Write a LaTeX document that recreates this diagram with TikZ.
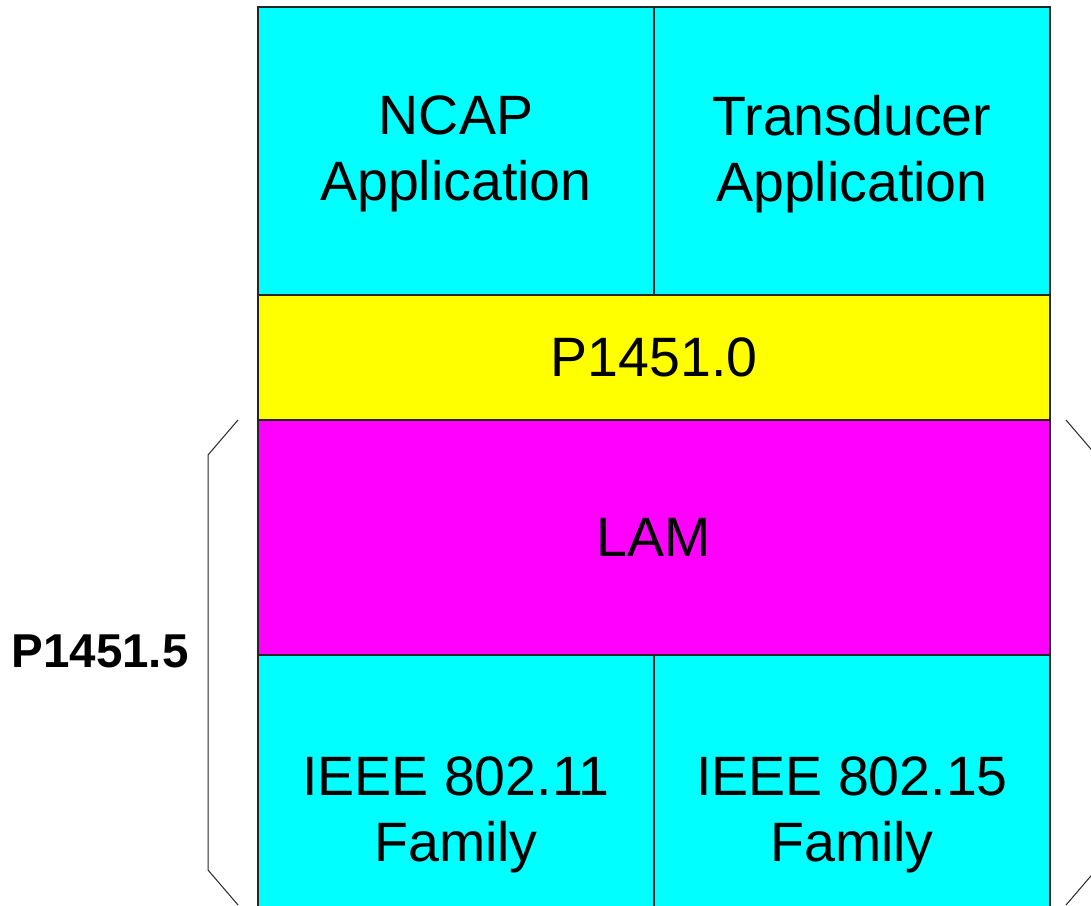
\documentclass[tikz,border=0pt]{standalone}
\usepackage{fontspec}
\setmainfont{Liberation Sans}
\definecolor{layercyan}{RGB}{0,255,255}
\definecolor{layeryellow}{RGB}{255,255,0}
\definecolor{layermagenta}{RGB}{255,0,255}
\begin{document}
\begin{tikzpicture}[x=1pt,y=-1pt,
  cell/.style={draw=black!85,line width=1.4pt,rectangle,inner sep=0pt,
    align=center,font=\fontsize{55.5}{66}\selectfont},
  celltext/.style={cell,draw=none,anchor=center},
  bracket/.style={draw=black!85,line width=1pt},
  sidelabel/.style={font=\fontsize{47.5}{57}\selectfont\bfseries}]
\useasboundingbox (0,0) rectangle (1091,905);
\clip (0,0) rectangle (1091,905);
% application layer
\node[cell,fill=layercyan,minimum width=396pt,minimum height=288pt] (ncap) at (456,151) {};
\node[cell,fill=layercyan,minimum width=396pt,minimum height=288pt] (trans) at (852,151) {};
\node[celltext] at ([yshift=-3pt]ncap.center) {NCAP\\Application};
\node[celltext] at ([yshift=-3pt]trans.center) {Transducer\\Application};
% common layer
\node[cell,fill=layeryellow,minimum width=792pt,minimum height=125pt] (p0) at (654,357.5) {P1451.0};
% wireless families
\node[cell,fill=layercyan,minimum width=396pt,minimum height=316pt] (w11) at (456,813) {};
\node[cell,fill=layercyan,minimum width=396pt,minimum height=316pt] (w15) at (852,813) {};
\node[celltext] at ([yshift=-2pt]w11.center) {IEEE 802.11\\Family};
\node[celltext] at ([yshift=-2pt]w15.center) {IEEE 802.15\\Family};
% LAM
\node[cell,fill=layermagenta,minimum width=792pt,minimum height=235pt] (lam) at (654,537.5) {LAM};
% brackets around the P1451.5 part
\draw[bracket] (238,420) -- (208,455) -- (208,870) -- (238,905);
\draw[bracket] (1066,420) -- (1096,455) -- (1096,870) -- (1066,905);
\node[sidelabel] (p5) at (100,651) {P1451.5};
\end{tikzpicture}
\end{document}
